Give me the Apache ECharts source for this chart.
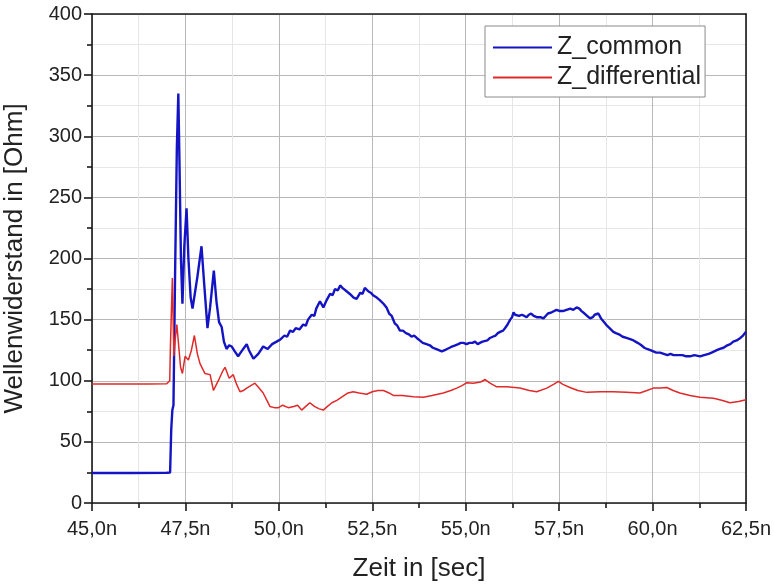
<!DOCTYPE html>
<html>
<head>
<meta charset="utf-8">
<script src="https://cdn.jsdelivr.net/npm/echarts@6/dist/echarts.min.js"></script>
<style>
html,body{margin:0;padding:0;background:#fff;}
#chart{width:774px;height:584px;}
</style>
</head>
<body>
<div id="chart"></div>
<script>
// Time in ns, impedance in Ohm
var zCommonPoints = [
[45.0,24.5],[46.0,24.5],[47.0,24.7],[47.09,25],[47.12,60],[47.15,76],[47.18,80],[47.22,180],[47.27,290],[47.31,335],[47.34,280],[47.38,200],[47.42,163],[47.47,210],[47.53,241],[47.58,200],[47.64,168],[47.69,159],[47.76,173],[47.82,185],[47.93,210],[48.0,180],[48.09,143],[48.16,160],[48.26,190],[48.33,165],[48.40,148],[48.47,144],[48.53,132],[48.6,126],[48.67,129],[48.74,128],[48.82,124],[48.91,120],[49.0,124],[49.07,127],[49.14,130],[49.2,125],[49.32,118],[49.45,122],[49.58,128],[49.7,126],[49.82,130],[49.94,132],[50.05,134],[50.15,137],[50.22,136],[50.3,141],[50.38,140],[50.45,143],[50.55,142],[50.65,146],[50.72,145],[50.78,150],[50.88,154],[50.95,153],[51.0,159],[51.1,165],[51.19,160],[51.28,166],[51.37,171],[51.44,170],[51.5,175],[51.58,174],[51.64,178],[51.7,176],[51.75,175],[51.82,173],[51.9,171],[52.0,168],[52.08,167],[52.18,172],[52.24,171],[52.3,176],[52.4,173],[52.46,172],[52.52,170],[52.62,168],[52.7,166],[52.8,163],[52.88,160],[52.95,155],[53.02,153],[53.1,147],[53.17,145],[53.24,141],[53.32,141],[53.4,139],[53.48,138],[53.55,136],[53.62,137],[53.69,135],[53.77,133],[53.85,131],[53.95,130],[54.04,129],[54.12,127],[54.2,126],[54.28,125],[54.36,124],[54.44,125],[54.5,126],[54.57,127],[54.63,128],[54.72,129],[54.8,130],[54.87,131],[54.94,131],[55.02,130],[55.1,131],[55.18,131],[55.25,132],[55.32,130],[55.38,131],[55.45,132],[55.5,133],[55.58,133],[55.65,135],[55.72,136],[55.8,137],[55.86,139],[55.92,140],[56.0,141],[56.05,143],[56.12,146],[56.19,150],[56.24,152],[56.28,156],[56.32,154],[56.36,155],[56.43,153],[56.5,154],[56.57,153],[56.63,152],[56.69,154],[56.75,155],[56.82,153],[56.9,152],[57.0,152],[57.08,151],[57.14,153],[57.2,155],[57.3,156],[57.43,158],[57.52,157],[57.6,157],[57.7,158],[57.8,159],[57.88,158],[57.97,160],[58.04,159],[58.1,157],[58.18,155],[58.25,153],[58.33,151],[58.4,152],[58.45,154],[58.55,155],[58.62,151],[58.7,148],[58.78,145],[58.85,143],[58.95,140],[59.02,139],[59.1,138],[59.2,136],[59.3,135],[59.4,134],[59.49,133],[59.6,131],[59.7,129],[59.78,127],[59.85,126],[59.94,125],[60.02,124],[60.1,123],[60.2,123],[60.3,122],[60.4,121],[60.48,122],[60.56,121],[60.68,121],[60.8,121],[60.9,120],[61.0,120],[61.12,121],[61.27,120],[61.38,121],[61.5,122],[61.58,123],[61.65,124],[61.72,125],[61.8,126],[61.9,127],[62.0,129],[62.08,130],[62.16,132],[62.25,133],[62.35,135],[62.42,137],[62.5,140]
];
var zDifferentialPoints = [
[45.0,97.3],[46.5,97.3],[47.0,97.5],[47.05,97],[47.08,100],[47.1,130],[47.15,184],[47.19,120],[47.23,135],[47.27,146],[47.31,147],[47.37,111],[47.42,106],[47.49,120],[47.58,117],[47.66,125],[47.74,137],[47.82,122],[47.89,114],[48.02,106],[48.16,105],[48.25,92],[48.33,97],[48.41,102],[48.5,108],[48.56,111],[48.67,102],[48.78,105],[48.87,97],[48.96,91],[49.05,92],[49.14,94],[49.25,96],[49.36,98],[49.47,94],[49.58,90],[49.68,84],[49.76,79],[49.88,78],[49.99,78],[50.1,80],[50.25,78],[50.4,79],[50.5,80],[50.61,76],[50.72,79],[50.83,82],[50.95,79],[51.08,77],[51.19,76],[51.3,79],[51.42,82],[51.55,84],[51.7,87],[51.85,90],[51.99,91],[52.15,90],[52.35,89],[52.5,91],[52.65,92],[52.8,92],[52.95,90],[53.06,88],[53.3,88],[53.6,87],[53.87,86.5],[54.1,88],[54.4,90],[54.6,92],[54.76,94],[54.9,96],[55.03,98.4],[55.2,98],[55.4,99],[55.52,101],[55.65,98],[55.83,95],[56.1,95],[56.45,94],[56.7,92],[56.9,91],[57.17,94],[57.35,97],[57.48,99.5],[57.6,97],[57.79,94.5],[58.0,92],[58.24,90.5],[58.6,91],[58.95,91],[59.3,90.5],[59.66,90],[59.85,92],[60.02,94],[60.2,94],[60.38,94.5],[60.55,92],[60.73,90],[61.0,88],[61.27,86.5],[61.63,85.6],[61.85,84],[62.07,82],[62.3,83],[62.5,84.5]
];
var seriesNames = ['Z_common', 'Z_differential'];
var xTitle = 'Zeit in [sec]';
var yTitle = 'Wellenwiderstand in [Ohm]';
var xMin = 45, xMax = 62.5, xStep = 2.5;
var yMin = 0, yMax = 400, yStep = 50;

var FONT = 'Liberation Sans';
var chart = echarts.init(document.getElementById('chart'));
var axisLineStyle = {color: '#1a1a1a', width: 1.6};
chart.setOption({
  animation: false,
  backgroundColor: '#ffffff',
  grid: {left: 92, right: 28, top: 14, bottom: 81, containLabel: false, outerBoundsMode: 'none'},
  legend: {
    left: 485, top: 26,
    orient: 'vertical',
    data: seriesNames,
    icon: 'rect',
    itemWidth: 59, itemHeight: 2, itemGap: 5,
    padding: [9, 4, 7, 8],
    borderColor: '#8a8a8a', borderWidth: 1,
    backgroundColor: '#ffffff',
    textStyle: {fontFamily: FONT, fontSize: 25, color: '#222', lineHeight: 24, padding: [0,0,0,0]}
  },
  xAxis: [{
    type: 'value', min: xMin, max: xMax, interval: xStep,
    name: xTitle, nameLocation: 'middle', nameGap: 53,
    nameTextStyle: {fontFamily: FONT, fontSize: 26, color: '#222'},
    axisLine: {show: true, onZero: false, lineStyle: axisLineStyle},
    axisTick: {show: true, inside: false, length: 8, lineStyle: {color: '#1a1a1a', width: 1.6}},
    minorTick: {show: true, splitNumber: 2, length: 5, lineStyle: {color: '#1a1a1a', width: 1.6}},
    axisLabel: {fontFamily: FONT, fontSize: 20, color: '#222', margin: 16,
      formatter: function (v) { return v.toFixed(1).replace('.', ',') + 'n'; }},
    splitLine: {show: true, lineStyle: {color: '#b8b8b8', width: 1}},
    minorSplitLine: {show: true, lineStyle: {color: '#e6e6e6', width: 1}}
  }, {
    type: 'value', min: xMin, max: xMax, interval: xStep, position: 'top',
    axisLine: {show: true, onZero: false, lineStyle: axisLineStyle},
    axisTick: {show: false}, axisLabel: {show: false}, splitLine: {show: false}
  }],
  yAxis: [{
    type: 'value', min: yMin, max: yMax, interval: yStep,
    name: yTitle, nameLocation: 'middle', nameGap: 64,
    nameTextStyle: {fontFamily: FONT, fontSize: 26, color: '#222'},
    axisLine: {show: true, onZero: false, lineStyle: axisLineStyle},
    axisTick: {show: true, inside: false, length: 8, lineStyle: {color: '#1a1a1a', width: 1.6}},
    minorTick: {show: true, splitNumber: 2, length: 5, lineStyle: {color: '#1a1a1a', width: 1.6}},
    axisLabel: {fontFamily: FONT, fontSize: 20, color: '#222', margin: 10},
    splitLine: {show: true, lineStyle: {color: '#b8b8b8', width: 1}},
    minorSplitLine: {show: true, lineStyle: {color: '#e6e6e6', width: 1}}
  }, {
    type: 'value', min: yMin, max: yMax, interval: yStep, position: 'right',
    axisLine: {show: true, onZero: false, lineStyle: axisLineStyle},
    axisTick: {show: false}, axisLabel: {show: false}, splitLine: {show: false}
  }],
  series: [{
    name: seriesNames[0], type: 'line', data: zCommonPoints,
    symbol: 'none', smooth: false, z: 3,
    lineStyle: {color: '#1414c4', width: 2.4},
    itemStyle: {color: '#1414c4'}
  }, {
    name: seriesNames[1], type: 'line', data: zDifferentialPoints,
    symbol: 'none', smooth: false, z: 4,
    lineStyle: {color: '#e02a2a', width: 1.5},
    itemStyle: {color: '#e02a2a'}
  }]
});
</script>
</body>
</html>
